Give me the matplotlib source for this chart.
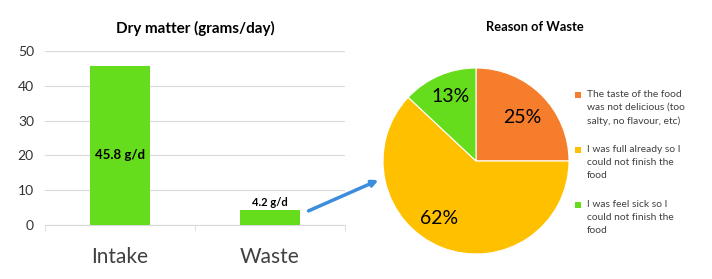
import numpy as np
import matplotlib.pyplot as plt
from matplotlib.patches import FancyArrowPatch, Rectangle

plt.rcParams['font.family'] = ['Lato', 'DejaVu Sans']

# data
categories = ['Intake', 'Waste']
dry_matter = [45.8, 4.2]
bar_labels = ['45.8 g/d', '4.2 g/d']

reasons = ['The taste of the food\nwas not delicious (too\nsalty, no flavour, etc)',
           'I was full already so I\ncould not finish the\nfood',
           'I was feel sick so I\ncould not finish the\nfood']
reason_pct = [25, 62, 13]

green = '#66DD1C'
pie_colors = ['#F57D2B', '#FFC000', green]

W, H = 712, 279
fig = plt.figure(figsize=(W / 100, H / 100), dpi=100)

def box(x0, y0, x1, y1):
    # pixel box (top-left origin) -> figure fraction
    return [x0 / W, 1 - y1 / H, (x1 - x0) / W, (y1 - y0) / H]

# --- bar chart ---
ax1 = fig.add_axes(box(45, 51, 345, 225))
x = range(len(categories))
ax1.bar(x, dry_matter, width=0.4, color=green, zorder=3)
ax1.set_xlim(-0.5, 1.5)
ax1.set_ylim(0, 50)
ax1.set_yticks(range(0, 51, 10))
ax1.yaxis.grid(True, color='#d9d9d9', linewidth=0.8, zorder=0)
for s in ['top', 'right', 'left']:
    ax1.spines[s].set_visible(False)
ax1.spines['bottom'].set_color('#d9d9d9')
ax1.tick_params(axis='y', length=0, labelsize=10, colors='#333333', pad=8)
ax1.set_xticks(x)
ax1.set_xticklabels(categories, fontsize=15, color='#404040')
ax1.tick_params(axis='x', length=0, pad=16)
ax1.set_xticks([-0.5, 0.5, 1.5], minor=True)
ax1.tick_params(axis='x', which='minor', length=4, color='#d9d9d9')
ax1.set_title('Dry matter (grams/day)', fontsize=11, fontweight='bold', pad=13)

ax1.text(0, 20, bar_labels[0], ha='center', va='center',
         fontsize=9.5, fontweight='bold', zorder=4)
ax1.text(1, dry_matter[1] + 0.6, bar_labels[1], ha='center', va='bottom',
         fontsize=8, fontweight='bold', zorder=4)

# --- pie chart ---
ax2 = fig.add_axes(box(383, 68, 569, 254))
wedges, _ = ax2.pie(reason_pct, colors=pie_colors, startangle=90, counterclock=False,
                    radius=1, wedgeprops=dict(edgecolor='white', linewidth=0.8))
ax2.set_xlim(-1, 1)
ax2.set_ylim(-1, 1)
ax2.set_aspect('equal')
for w, p, d, shift in zip(wedges, reason_pct, [0.68, 0.74, 0.74], [-2, -11, -2]):
    ang = np.deg2rad((w.theta1 + w.theta2) / 2 + shift)
    ax2.text(d * np.cos(ang), d * np.sin(ang), f'{p}%', ha='center', va='center',
             fontsize=14)
fig.text(535 / W, 1 - 27 / H, 'Reason of Waste', ha='center', va='center',
         fontsize=9.3, fontweight='bold')

# legend drawn by hand so each square sits on the first line
for i, (lab, c) in enumerate(zip(reasons, pie_colors)):
    y = 95 + i * 55
    fig.patches.append(Rectangle((575 / W, 1 - (y + 3) / H), 6 / W, 6 / H,
                                 transform=fig.transFigure, facecolor=c,
                                 edgecolor='none'))
    fig.text(587 / W, 1 - (y - 5) / H, lab, ha='left', va='top', fontsize=7.4,
             color='#404040', linespacing=1.55)

# arrow between charts
fig.patches.append(FancyArrowPatch((306 / W, 1 - 212 / H), (381 / W, 1 - 179 / H),
                                   transform=fig.transFigure, arrowstyle='-|>',
                                   mutation_scale=9, color='#3C8EDD', linewidth=2.5))

fig.savefig('out.png', dpi=100)
